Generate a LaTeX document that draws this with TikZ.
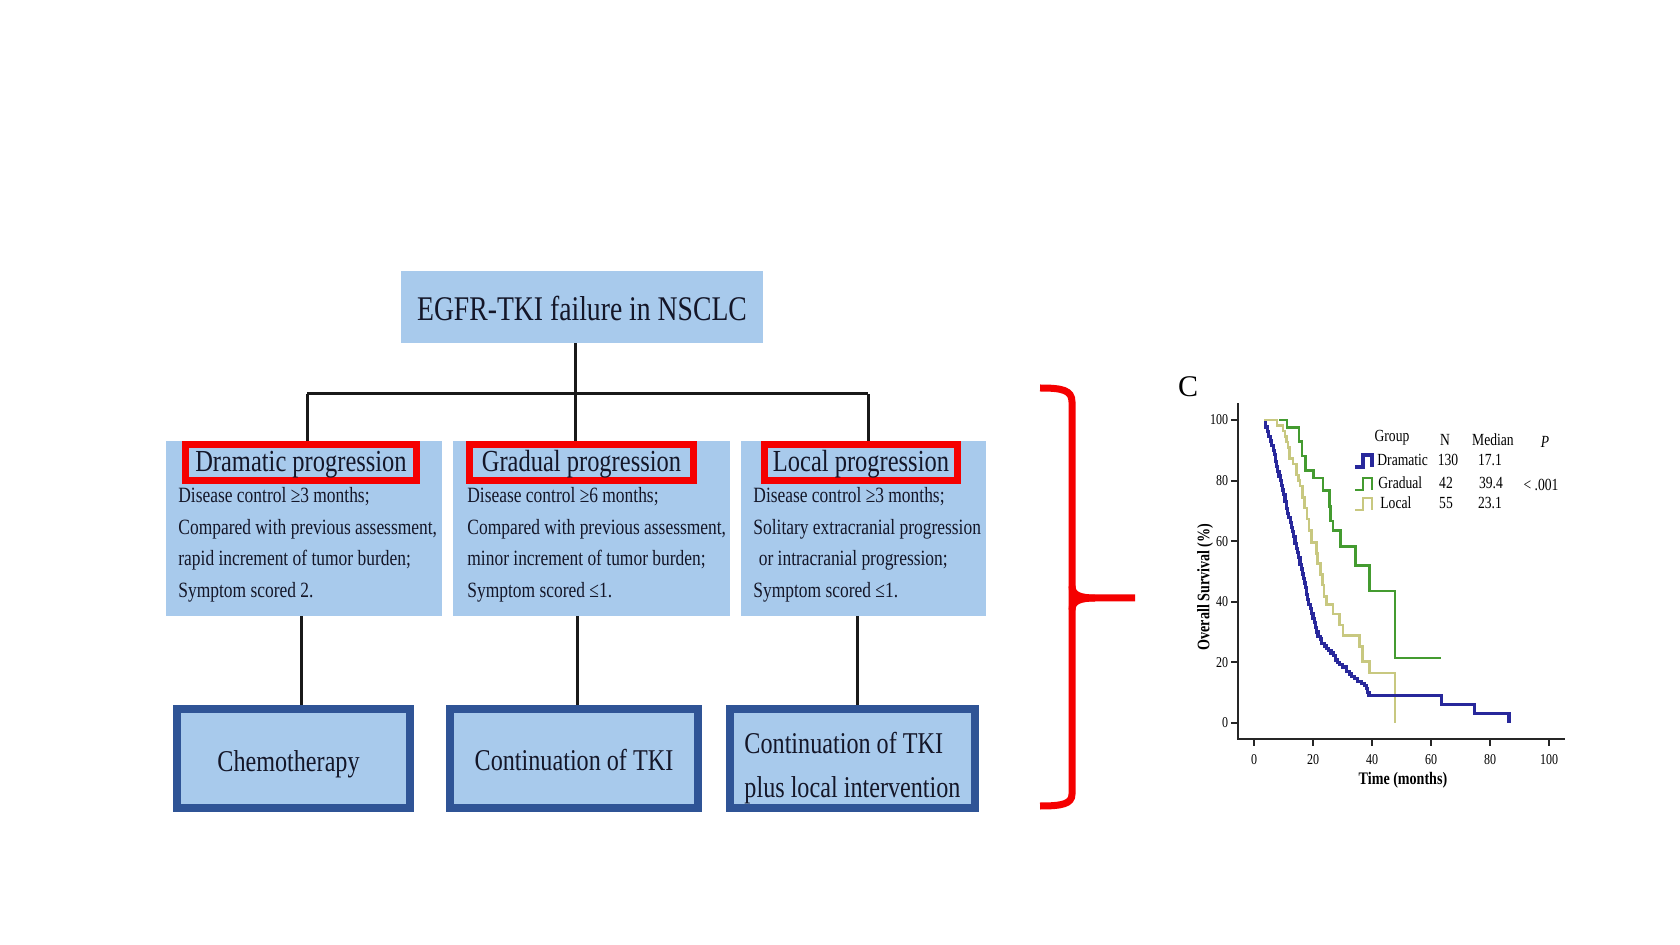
\documentclass[tikz,border=0pt]{standalone}
\usepackage{fontspec}
\usetikzlibrary{backgrounds}
\setmainfont{Liberation Serif}[FakeStretch=0.8]
\newfontfamily\plainserif{Liberation Serif}
\definecolor{lb}{RGB}{168,202,236}
\definecolor{db}{RGB}{47,84,150}
\definecolor{rd}{RGB}{245,0,0}
\definecolor{txt}{RGB}{20,22,40}
\definecolor{kmb}{RGB}{40,40,155}
\definecolor{kmg}{RGB}{68,155,48}
\definecolor{kmt}{RGB}{200,200,128}
\newcommand{\lowerby}[2]{\raisebox{-#1}[\height][\depth]{#2}}
\begin{document}
\begin{tikzpicture}[x=0.5pt,y=-0.5pt,
  conn/.style={line width=1.5pt, black!90},
  lbox/.style={rectangle, fill=lb, inner sep=0pt},
  titlebox/.style={rectangle, fill=lb, inner sep=0pt, text=txt, font=\fontsize{17.3}{20}\selectfont},
  hbox/.style={rectangle, draw=rd, line width=3.5pt, fill=lb, inner sep=0pt, text=txt, font=\fontsize{15.3}{18}\selectfont},
  bbox/.style={rectangle, draw=db, line width=4pt, fill=lb, inner sep=0pt, text=txt, font=\fontsize{15.1}{22}\selectfont},
  body/.style={inner sep=0pt, anchor=west, align=left, text=txt, font=\fontsize{10.9}{15.75}\selectfont},
  brace/.style={rd, line width=3.5pt},
  axis/.style={line width=1pt, black!85},
  tick/.style={inner sep=0pt, font=\fontsize{7.5}{9}\selectfont},
  leg/.style={inner sep=0pt, font=\fontsize{8.5}{10}\selectfont},
  axtitle/.style={inner sep=0pt, font=\bfseries\fontsize{8.8}{10}\selectfont},
  km/.style={line width=1.3pt, line join=miter}
]
\useasboundingbox (0,0) rectangle (1680,945);

% ---------- flow chart ----------
\node[titlebox, minimum width=181pt, minimum height=36pt] (top) at (582,307) {\lowerby{0.5pt}{EGFR-TKI failure in NSCLC}};

\node[lbox, minimum width=138pt, minimum height=87.5pt] (l1) at (304,528.5) {};
\node[lbox, minimum width=138.5pt, minimum height=87.5pt] (l2) at (591.5,528.5) {};
\node[lbox, minimum width=122.5pt, minimum height=87.5pt] (l3) at (863.5,528.5) {};

\node[hbox, minimum width=115.5pt, minimum height=18pt] (h1) at (301,462.5) {\lowerby{1pt}{Dramatic progression}};
\node[hbox, minimum width=112pt, minimum height=18pt] (h2) at (581.5,462.5) {\lowerby{1pt}{Gradual progression}};
\node[hbox, minimum width=96.5pt, minimum height=18pt] (h3) at (861,462.5) {\lowerby{1pt}{Local progression}};

\node[body] (t1) at (178,545) {Disease control ≥3 months;\\Compared with previous assessment,\\rapid increment of tumor burden;\\Symptom scored 2.};
\node[body] (t2) at (467,545) {Disease control ≥6 months;\\Compared with previous assessment,\\minor increment of tumor burden;\\Symptom scored ≤1.};
\node[body] (t3) at (753,545) {Disease control ≥3 months;\\Solitary extracranial progression\\\hspace{0.25em}or intracranial progression;\\Symptom scored ≤1.};

\node[bbox, minimum width=116.5pt, minimum height=49.5pt] (b1) at (293.5,758.5) {\hspace*{-5pt}\lowerby{2.7pt}{Chemotherapy}};
\node[bbox, minimum width=124pt, minimum height=49.5pt] (b2) at (574,758.5) {\lowerby{1pt}{Continuation of TKI}};
\node[bbox, minimum width=122.5pt, minimum height=49.5pt] (b3) at (852.5,758.5) {\lowerby{4.3pt}{\begin{tabular}{@{}l@{}}Continuation of TKI\\plus local intervention\end{tabular}}};

\coordinate (jl) at (307,394);
\coordinate (jm) at (575,394);
\coordinate (jr) at (868,394);
\coordinate (k1) at (301,0);
\coordinate (k2) at (577,0);
\coordinate (k3) at (857,0);
\begin{scope}[on background layer]
\draw[conn] (jm |- top.south) -- (jm);
\draw[conn] (jl) -- (jr);
\draw[conn] (jl) -- (jl |- l1.north);
\draw[conn] (jm) -- (jm |- l2.north);
\draw[conn] (jr) -- (jr |- l3.north);
\draw[conn] (k1 |- l1.south) -- (k1 |- b1.north);
\draw[conn] (k2 |- l2.south) -- (k2 |- b2.north);
\draw[conn] (k3 |- l3.south) -- (k3 |- b3.north);
\end{scope}

% ---------- brace ----------
\draw[brace] (1040,388) .. controls (1062,388) and (1072,390) .. (1072,402) -- (1072,794) .. controls (1072,804) and (1062,806) .. (1040,806);
\draw[brace] (1072,586) .. controls (1072,595) and (1080,598) .. (1095,598) -- (1135,598);
\draw[brace] (1072,610) .. controls (1072,601) and (1080,598) .. (1095,598);

% ---------- KM plot ----------
\node[inner sep=0pt, font=\plainserif\fontsize{15}{17}\selectfont] (lblC) at (1188,387) {C};

\begin{scope}[shift={(627pt,-361.5pt)}, x=1.475pt, y=1.515pt]
  \draw[axis] (-5.4,105.6) -- (-5.4,-5.3) -- (105.4,-5.3);
  \foreach \v in {0,20,40,60,80,100} {
    \draw[axis] (-5.4,\v) -- (-7.9,\v);
    \node[tick, anchor=east] (yt\v) at (-8.6,\v) {\v};
    \draw[axis] (\v,-5.3) -- (\v,-7.6);
    \node[tick] (xt\v) at (\v,-12.2) {\v};
  }
  \node[axtitle] (xtitle) at (50.5,-18.8) {Time (months)};
  \node[axtitle, rotate=90] (ytitle) at (-16.6,44.9) {Overall Survival (\%)};

  % Local (tan)
  \draw[km, kmt] plot[const plot] coordinates {(3.5,100) (7.8,98.2) (9.8,96.4) (10.5,94.5) (11,92.7) (11.5,90.9) (12,87.3) (13.2,85.5) (14.4,81.8) (15,80) (15.6,78.2) (16.4,74.5) (17.2,70.9) (18,67.3) (18.7,63.6) (19.4,59.5) (21.1,56) (21.6,52.7) (22.5,49.1) (23.2,45.5) (23.7,41.8) (24.5,39.2) (26.8,36) (29,32.4) (30.2,28.8) (35.8,25.2) (36.8,20.2) (39.2,16.5) (47.8,0)};
  % Gradual (green)
  \draw[km, kmg] plot[const plot] coordinates {(8.5,100) (11.2,97.6) (15.3,92.9) (16.2,88.1) (17.4,83.3) (20.2,80.9) (23.4,76.7) (25.6,71.4) (26.0,66.7) (26.8,63.6) (29.3,58.3) (34.4,52.0) (39.2,43.5) (47.8,21.5) (63.5,21.5)};
  % Dramatic (blue)
  \draw[km, kmb, line width=1.6pt] plot[const plot] coordinates {(3.4,99.2) (4.0,97.7) (4.6,96.2) (5.0,94.6) (5.5,93.1) (6.0,91.5) (6.5,90.0) (6.9,88.5) (7.2,86.2) (7.6,84.6) (8.0,83.1) (8.5,81.5) (8.9,80.0) (9.3,78.5) (9.7,76.9) (10.1,75.4) (10.5,73.1) (11.0,70.8) (11.4,69.2) (11.8,67.7) (12.3,66.2) (12.7,64.6) (13.1,63.1) (13.5,61.5) (13.9,59.2) (14.4,57.7) (14.8,56.2) (15.2,54.6) (15.6,52.3) (16.0,50.8) (16.4,49.2) (16.8,47.7) (17.1,46.2) (17.5,44.6) (17.9,42.3) (18.2,40.8) (18.6,39.2) (19.2,37.7) (19.6,36.2) (20.0,34.6) (20.4,33.1) (20.8,31.5) (21.2,30.0) (21.7,28.5) (22.4,27.7) (23.0,26.2) (23.8,25.4) (24.5,24.6) (25.3,23.8) (26.1,23.1) (26.9,22.3) (27.5,20.8) (28.3,20.0) (29.1,19.2) (29.9,18.5) (31.3,16.9) (32.3,16.2) (33.0,15.4) (34.0,14.6) (35.0,13.8) (36.4,13.1) (37.4,12.3) (38.0,11.5) (38.6,10.0) (39.0,9.2) (63.5,6.2) (74.8,3.1) (86.4,0)};
\end{scope}

% legend
\node[leg] (lgG) at (1392,438) {Group};
\node[leg] (lgN) at (1445,440) {N};
\node[leg] (lgM) at (1493,440) {Median};
\node[leg] (lgP) at (1545,442) {\textit{P}};
\draw[kmb, line width=1.6pt] (1355,467) -- (1363,467) -- (1363,455) -- (1372,455) -- (1372,467);
\draw[kmg, line width=1.4pt] (1355,490) -- (1363,490) -- (1363,478) -- (1372,478) -- (1372,490);
\draw[kmt, line width=1.4pt] (1355,510) -- (1363,510) -- (1363,498) -- (1372,498) -- (1372,510);
\node[leg, anchor=west] (lgD) at (1377,460) {Dramatic};
\node[leg, anchor=west] (lgGr) at (1378,483) {Gradual};
\node[leg, anchor=west] (lgL) at (1380,503) {Local};
\node[leg] (nD) at (1448,460) {130};
\node[leg] (nG) at (1446,483) {42};
\node[leg] (nL) at (1446,503) {55};
\node[leg] (mD) at (1490,460) {17.1};
\node[leg] (mG) at (1491,483) {39.4};
\node[leg] (mL) at (1490,503) {23.1};
\node[leg] (pv) at (1541,485) {< .001};
\end{tikzpicture}
\end{document}
